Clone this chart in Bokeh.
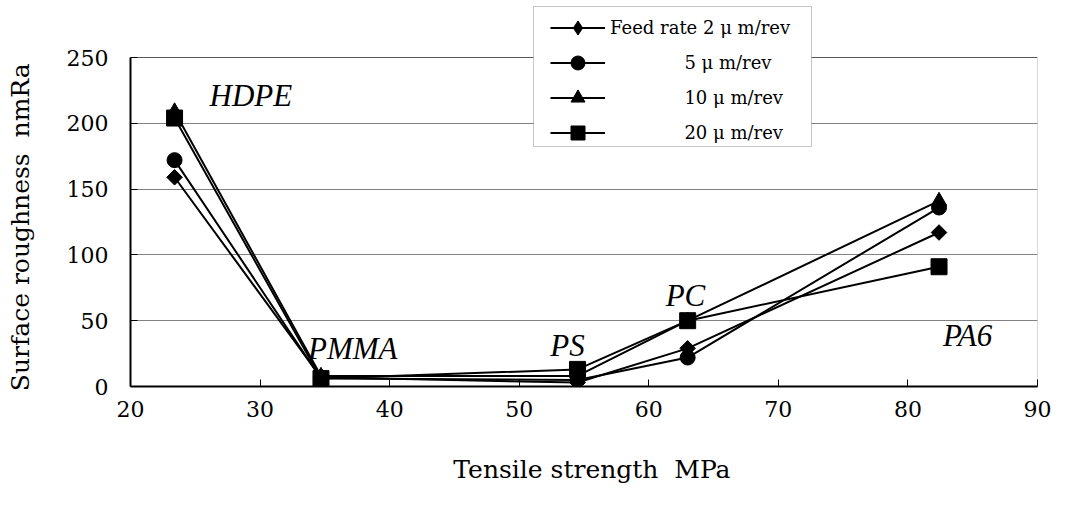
import math
from bokeh.plotting import figure
from bokeh.models import Legend, LegendItem, FixedTicker, Range1d, BoxAnnotation
from bokeh.core.properties import value
from bokeh.embed import file_html
from bokeh.resources import INLINE

# ---- data ----
tensile = [23.4, 34.7, 54.5, 63.0, 82.4]          # MPa (HDPE, PMMA, PS, PC, PA6)
feed_2 = [159, 7, 3, 29, 117]
feed_5 = [172, 6, 5, 22, 136]
feed_10 = [209, 8, 8, 50, 141]
feed_20 = [204, 6, 13, 50, 91]
series_labels = ["Feed rate 2\u03bc m/rev", "5\u03bc m/rev", "10\u03bc m/rev", "20\u03bc m/rev"]

materials = ["HDPE", "PMMA", "PS", "PC", "PA6"]
mat_label_x = [26.1, 33.7, 52.4, 61.3, 82.7]
mat_label_y = [221, 29, 31, 69, 39]

x_ticks = [20, 30, 40, 50, 60, 70, 80, 90]
y_ticks = [0, 50, 100, 150, 200, 250]
Y_MAX = 250
X_MIN, X_MAX = 20, 90

SERIF = "DejaVu Serif"

# frame is extended upward so the legend (which sits above the plot box) is not clipped
Y_TOP = Y_MAX * 382 / 329

p = figure(width=1054, height=494, output_backend="svg", toolbar_location=None,
           x_range=Range1d(X_MIN, X_MAX), y_range=Range1d(0, Y_TOP),
           min_border_left=130, min_border_right=17, min_border_top=4, min_border_bottom=108)
p.background_fill_color = "white"
p.border_fill_color = "white"
p.outline_line_color = None

p.xgrid.visible = False
p.ygrid.grid_line_color = "#808080"
p.ygrid.grid_line_width = 1
p.ygrid.ticker = FixedTicker(ticks=y_ticks)

for ax in (p.xaxis[0], p.yaxis[0]):
    ax.axis_line_color = "black"
    ax.axis_line_width = 2
    ax.major_tick_line_color = "black"
    ax.major_tick_line_width = 1
    ax.major_tick_in = 7
    ax.major_tick_out = 0
    ax.minor_tick_line_color = None
    ax.major_label_text_font = SERIF
    ax.major_label_text_font_size = "22px"
    ax.major_label_text_color = "black"
    ax.axis_label_text_font = SERIF
    ax.axis_label_text_font_size = "25px"
    ax.axis_label_text_font_style = "normal"
    ax.axis_label_text_color = "black"

p.xaxis.ticker = FixedTicker(ticks=x_ticks)
p.yaxis.ticker = FixedTicker(ticks=y_ticks)
p.yaxis.bounds = (0, Y_MAX)
p.xaxis.axis_label = "\u00a0\u00a0Tensile strength \u00a0MPa"
p.yaxis.axis_label = "Surface roughness \u00a0nmRa" + "\u00a0" * 8
p.xaxis.major_label_standoff = 14
p.yaxis.major_label_standoff = 22
p.xaxis.axis_label_standoff = 35
p.yaxis.axis_label_standoff = 29

# plot box (top and right edges)
p.add_layout(BoxAnnotation(left=X_MIN, right=X_MAX, bottom=0, top=Y_MAX,
                           fill_alpha=0, line_color="black", line_width=1))

# legend box (screen units relative to frame)
p.add_layout(BoxAnnotation(left=403, right=681, bottom=240, top=380,
                           left_units="screen", right_units="screen",
                           bottom_units="screen", top_units="screen",
                           fill_color="white", fill_alpha=1.0,
                           line_color="#444444", line_width=1))

marker_specs = [
    (feed_2, "square", 11, math.pi / 4),
    (feed_5, "circle", 15, 0.0),
    (feed_10, "triangle", 15, 0.0),
    (feed_20, "square", 16, 0.0),
]

lines = []
for vals, mk, sz, ang in marker_specs:
    lines.append(p.line(tensile, vals, line_color="black", line_width=2))

scatters = []
for vals, mk, sz, ang in marker_specs:
    scatters.append(p.scatter(tensile, vals, marker=mk, size=sz, angle=ang,
                              fill_color="black", line_color="black"))

# legend-only diamond (legend glyphs are never rotated)
legend_diamond = p.scatter(tensile, feed_2, marker="diamond", size=16,
                           fill_color="black", line_color="black", visible=False)
legend_marks = [legend_diamond] + scatters[1:]

pad = "\u00a0" * 13
legend_items = []
for i, (ln, sc, lab) in enumerate(zip(lines, legend_marks, series_labels)):
    if i == 0:
        text = lab.replace("2\u03bc", "2 \u03bc")
    else:
        text = pad + lab.replace("\u03bc", " \u03bc")
    legend_items.append(LegendItem(label=text, renderers=[ln, sc]))

legend = Legend(items=legend_items, location=(420, 236),
                glyph_width=55, glyph_height=35, label_height=35, spacing=0,
                padding=0, margin=0, label_standoff=5,
                label_text_font=SERIF, label_text_font_size="18px",
                label_text_color="black",
                border_line_color=None, background_fill_alpha=0.0)
p.add_layout(legend, "center")

p.text(mat_label_x, mat_label_y, text=materials,
       text_font=value("Liberation Serif"), text_font_style="italic",
       text_font_size="31px", text_color="black",
       text_align="left", text_baseline="middle")

open("out.html", "w").write(file_html(p, INLINE))
